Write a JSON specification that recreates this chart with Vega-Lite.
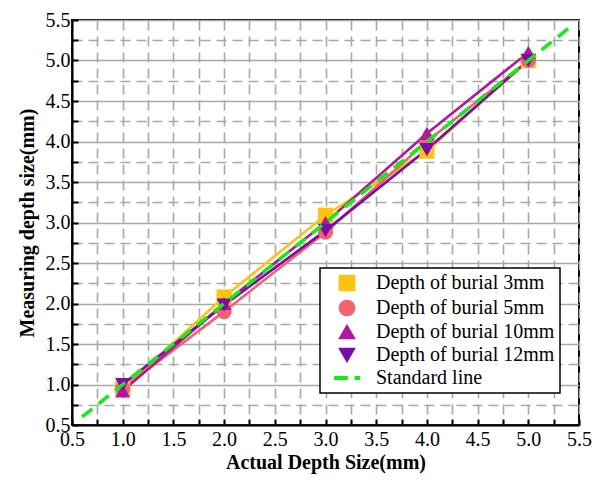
{
  "$schema": "https://vega.github.io/schema/vega-lite/v6.json",
  "width": 507,
  "height": 405,
  "autosize": {"type": "none"},
  "padding": {"left": 72, "top": 20, "right": 19, "bottom": 57},
  "background": "white",
  "config": {
    "view": {"stroke": "black", "strokeWidth": 2},
    "font": "Liberation Serif",
    "style": {
      "guide-label": {"font": "Liberation Serif", "fill": "black", "fontSize": 20},
      "guide-title": {"font": "Liberation Serif", "fill": "black"}
    },
    "axis": {
      "labelFont": "Liberation Serif",
      "titleFont": "Liberation Serif",
      "labelFontSize": 20,
      "labelColor": "black",
      "titleColor": "black"
    },
    "legend": {
      "labelFont": "Liberation Serif",
      "strokeWidth": 1.5
    }
  },
  "data": {
    "values": [
      {"x": 1, "y": 0.95, "series": "Depth of burial 3mm"},
      {"x": 2, "y": 2.08, "series": "Depth of burial 3mm"},
      {"x": 3, "y": 3.09, "series": "Depth of burial 3mm"},
      {"x": 4, "y": 3.88, "series": "Depth of burial 3mm"},
      {"x": 5, "y": 5.0, "series": "Depth of burial 3mm"},
      {"x": 1, "y": 0.95, "series": "Depth of burial 5mm"},
      {"x": 2, "y": 1.9, "series": "Depth of burial 5mm"},
      {"x": 3, "y": 2.88, "series": "Depth of burial 5mm"},
      {"x": 4, "y": 4.0, "series": "Depth of burial 5mm"},
      {"x": 5, "y": 5.0, "series": "Depth of burial 5mm"},
      {"x": 1, "y": 0.92, "series": "Depth of burial 10mm"},
      {"x": 2, "y": 2.0, "series": "Depth of burial 10mm"},
      {"x": 3, "y": 3.0, "series": "Depth of burial 10mm"},
      {"x": 4, "y": 4.1, "series": "Depth of burial 10mm"},
      {"x": 5, "y": 5.1, "series": "Depth of burial 10mm"},
      {"x": 1, "y": 1.0, "series": "Depth of burial 12mm"},
      {"x": 2, "y": 1.98, "series": "Depth of burial 12mm"},
      {"x": 3, "y": 2.9, "series": "Depth of burial 12mm"},
      {"x": 4, "y": 3.9, "series": "Depth of burial 12mm"},
      {"x": 5, "y": 5.0, "series": "Depth of burial 12mm"},
      {"x": 0.6, "y": 0.6, "series": "Standard line"},
      {"x": 5.4, "y": 5.4, "series": "Standard line"}
    ]
  },
  "encoding": {
    "x": {
      "field": "x", "type": "quantitative",
      "scale": {"domain": [0.5, 5.5], "nice": false, "zero": false},
      "axis": {
        "orient": "bottom",
        "title": "Actual Depth Size(mm)",
        "titleFont": "Liberation Serif", "labelFont": "Liberation Serif",
        "titleFontSize": 20, "titleFontWeight": "bold", "titlePadding": 3,
        "values": [0.5,0.75,1,1.25,1.5,1.75,2,2.25,2.5,2.75,3,3.25,3.5,3.75,4,4.25,4.5,4.75,5,5.25,5.5],
        "labelExpr": "abs(datum.value*2-round(datum.value*2))<0.01 ? format(datum.value,'.1f') : ''",
        "labelFontSize": 20, "labelPadding": 10, "labelFlush": false, "labelOverlap": false,
        "domainColor": "black", "domainWidth": 2,
        "tickColor": "black", "tickSize": -6, "tickWidth": 2,
        "grid": true, "gridColor": "#a8a8a8", "gridWidth": 1.6, "gridDash": [10, 6]
      }
    },
    "y": {
      "field": "y", "type": "quantitative",
      "scale": {"domain": [0.5, 5.5], "nice": false, "zero": false},
      "axis": {
        "orient": "left",
        "title": "Measuring depth size(mm)",
        "titleFont": "Liberation Serif", "labelFont": "Liberation Serif",
        "titleFontSize": 20, "titleFontWeight": "bold", "titlePadding": 8,
        "values": [0.5,0.75,1,1.25,1.5,1.75,2,2.25,2.5,2.75,3,3.25,3.5,3.75,4,4.25,4.5,4.75,5,5.25,5.5],
        "labelExpr": "abs(datum.value*2-round(datum.value*2))<0.01 ? format(datum.value,'.1f') : ''",
        "labelFontSize": 20, "labelPadding": 8, "labelFlush": false, "labelOverlap": false,
        "domainColor": "black", "domainWidth": 2,
        "tickColor": "black", "tickSize": -6, "tickWidth": 2,
        "grid": true, "gridColor": "#a8a8a8", "gridWidth": 1.6,
        "gridDash": {"condition": {"test": "abs(datum.value*2-round(datum.value*2))<0.01", "value": []}, "value": [10, 6]}
      }
    },
    "color": {
      "field": "series", "type": "nominal",
      "scale": {
        "domain": ["Depth of burial 3mm", "Depth of burial 5mm", "Depth of burial 10mm", "Depth of burial 12mm", "Standard line"],
        "range": ["#FFC20E", "#F5606F", "#B4179F", "#7B0CAB", "#11EE11"]
      },
      "legend": {
        "title": null,
        "orient": "none", "legendX": 248, "legendY": 248,
        "strokeColor": "black", "fillColor": "white",
        "padding": 5, "rowPadding": 3,
        "symbolSize": 230, "labelOffset": 19, "symbolOffset": 12,
        "labelFont": "Liberation Serif", "labelFontSize": 20, "labelColor": "black", "labelLimit": 400
      }
    }
  },
  "layer": [
    {
      "transform": [{"filter": "datum.series !== 'Standard line'"}],
      "mark": {"type": "line", "strokeWidth": 2.6}
    },
    {
      "transform": [{"filter": "datum.series !== 'Standard line'"}],
      "mark": {"type": "point", "filled": true, "opacity": 1, "size": 230},
      "encoding": {
        "shape": {
          "field": "series", "type": "nominal",
          "scale": {
            "domain": ["Depth of burial 3mm", "Depth of burial 5mm", "Depth of burial 10mm", "Depth of burial 12mm", "Standard line"],
            "range": ["square", "circle", "triangle-up", "triangle-down", "M-1.6,-0.16H0V0.16H-1.6Z M1.1,-0.16H1.6V0.16H1.1Z"]
          },
          "legend": {
            "title": null,
            "orient": "none", "legendX": 248, "legendY": 248,
            "strokeColor": "black", "fillColor": "white",
            "padding": 5, "rowPadding": 3,
            "symbolSize": 230, "labelOffset": 19, "symbolOffset": 12,
            "labelFont": "Liberation Serif", "labelFontSize": 20, "labelColor": "black", "labelLimit": 400
          }
        }
      }
    },
    {
      "transform": [{"filter": "datum.series === 'Standard line'"}],
      "mark": {"type": "line", "strokeWidth": 3.5, "strokeDash": [13, 8]}
    }
  ]
}
